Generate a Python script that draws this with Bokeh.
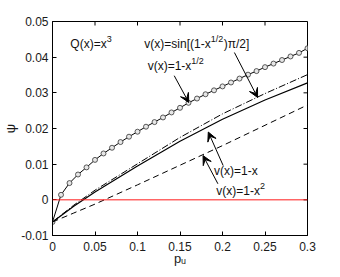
from bokeh.plotting import figure
from bokeh.models import Range1d, FixedTicker, Label, Arrow, VeeHead, Span
from bokeh.embed import file_html
from bokeh.resources import INLINE

# ---------------- data ----------------
x_sin = [0.00, 0.01, 0.02, 0.03, 0.04, 0.05, 0.06, 0.07, 0.08, 0.09, 0.10,
         0.11, 0.12, 0.13, 0.14, 0.15, 0.16, 0.17, 0.18, 0.19, 0.20,
         0.21, 0.22, 0.23, 0.24, 0.25, 0.26, 0.27, 0.28, 0.29, 0.30]
y_sin = [-0.0062, 0.0014, 0.0047, 0.0071, 0.0091, 0.0112, 0.0130, 0.0146, 0.0162, 0.0177, 0.0191,
         0.0205, 0.0218, 0.0231, 0.0245, 0.0258, 0.0272, 0.0284, 0.0296, 0.0307, 0.0318,
         0.0329, 0.0340, 0.0351, 0.0361, 0.0372, 0.0382, 0.0392, 0.0402, 0.0412, 0.0425]

x_lines = [0.0, 0.025, 0.05, 0.1, 0.15, 0.2, 0.25, 0.3]
y_sqrt = [-0.0062, -0.0015, 0.0027, 0.0101, 0.0175, 0.0241, 0.0298, 0.0351]   # v=1-x^1/2 (dash-dot)
y_lin = [-0.0062, -0.0018, 0.0022, 0.0095, 0.0164, 0.0226, 0.0280, 0.0328]    # v=1-x (solid)
y_sq = [-0.0062, -0.0037, -0.0012, 0.0042, 0.0097, 0.0152, 0.0209, 0.0266]    # v=1-x^2 (dashed)

x_ticks = [0, 0.05, 0.1, 0.15, 0.2, 0.25, 0.3]
x_tick_labels = ["0", "0.05", "0.1", "0.15", "0.2", "0.25", "0.3"]
y_ticks = [-0.01, 0, 0.01, 0.02, 0.03, 0.04, 0.05]
y_tick_labels = ["-0.01", "0", "0.01", "0.02", "0.03", "0.04", "0.05"]

FONT = "Liberation Sans"
X0, X1, Y0, Y1 = 0.0, 0.3, -0.01, 0.05
W_FIG, H_FIG = 324, 269
B_LEFT, B_RIGHT, B_TOP, B_BOTTOM = 50, 17, 21, 34
TICK = 4

p = figure(width=W_FIG, height=H_FIG, output_backend="svg", toolbar_location=None,
           x_range=Range1d(X0, X1), y_range=Range1d(Y0, Y1),
           min_border_left=B_LEFT, min_border_right=B_RIGHT,
           min_border_top=B_TOP, min_border_bottom=B_BOTTOM,
           x_axis_label="pᵤ", y_axis_label="ψ")
p.grid.visible = False
p.outline_line_color = "black"
p.background_fill_color = "white"
p.border_fill_color = "white"

for ax, ticks, labels in ((p.xaxis[0], x_ticks, x_tick_labels), (p.yaxis[0], y_ticks, y_tick_labels)):
    ax.ticker = FixedTicker(ticks=ticks)
    ax.major_label_overrides = {t: l for t, l in zip(ticks, labels)}
    ax.major_tick_in = TICK
    ax.major_tick_out = 0
    ax.minor_tick_in = 0
    ax.minor_tick_out = 0
    ax.axis_line_color = "black"
    ax.major_tick_line_color = "black"
    ax.major_label_text_font = FONT
    ax.major_label_text_color = "#1a1a1a"
    ax.major_label_text_font_size = "12px"
    ax.major_label_standoff = 4
    ax.axis_label_text_font = FONT
    ax.axis_label_text_font_style = "normal"
    ax.axis_label_text_font_size = "13px"
    ax.axis_label_text_color = "#1a1a1a"
p.xaxis[0].major_label_standoff = 6
p.xaxis[0].axis_label_standoff = -3
p.yaxis[0].axis_label_standoff = 0

# inward ticks on top and right edges (box like the reference)
frame_w = W_FIG - B_LEFT - B_RIGHT
frame_h = H_FIG - B_TOP - B_BOTTOM
dy = TICK * (Y1 - Y0) / frame_h
dx = TICK * (X1 - X0) / frame_w
p.segment(x0=x_ticks, y0=[Y1] * len(x_ticks), x1=x_ticks, y1=[Y1 - dy] * len(x_ticks),
          line_color="black", line_width=1)
p.segment(x0=[X1] * len(y_ticks), y0=y_ticks, x1=[X1 - dx] * len(y_ticks), y1=y_ticks,
          line_color="black", line_width=1)

# zero line
p.add_layout(Span(location=0, dimension="width", line_color="#ff1a1a", line_width=1))

# curves
p.line(x_sin, y_sin, line_color="black", line_width=1)
p.scatter(x_sin, y_sin, size=5, marker="circle", line_color="#333333", fill_color="#e6e6e6", line_width=0.8)
p.line(x_lines, y_sqrt, line_color="black", line_width=1, line_dash="7 2 1 2")
p.line(x_lines, y_lin, line_color="black", line_width=1.2)
p.line(x_lines, y_sq, line_color="black", line_width=1, line_dash="6 4")

# composite text helper (Arial/Liberation metrics)
W = {'v': 500, '(': 333, 'x': 500, ')': 333, '=': 584, 's': 500, 'i': 222, 'n': 556,
     '[': 278, ']': 278, '1': 556, '-': 333, 'π': 560, '/': 278, '2': 556, 'Q': 778, '3': 556}

def composite(x, y, pieces, size=12, sup=9):
    off = 0.0
    for txt, kind in pieces:
        fs = size if kind == "n" else sup
        yo = 0 if kind == "n" else 5
        p.add_layout(Label(x=x, y=y, x_offset=off, y_offset=yo, text=txt,
                           text_font=FONT, text_font_size=f"{fs}px",
                           text_color="#111111", text_baseline="middle", text_align="left"))
        off += sum(W.get(c, 556) for c in txt) * fs / 1000.0 + (0.5 if kind != "n" else 0)

composite(0.021, 0.0438, [("Q(x)=x", "n"), ("3", "s")])
composite(0.108, 0.0438, [("v(x)=sin[(1-x", "n"), ("1/2", "s"), (")π/2]", "n")])
composite(0.112, 0.0376, [("v(x)=1-x", "n"), ("1/2", "s")])
composite(0.190, 0.0082, [("v(x)=1-x", "n")])
composite(0.1926, 0.0026, [("v(x)=1-x", "n"), ("2", "s")])

# arrows
def arrow(x0, y0, x1, y1):
    p.add_layout(Arrow(x_start=x0, y_start=y0, x_end=x1, y_end=y1, line_width=1, line_color="black",
                       end=VeeHead(size=9, fill_color="black", line_color="black")))

arrow(0.1432, 0.0348, 0.1603, 0.0273)
arrow(0.2140, 0.0413, 0.2413, 0.0287)
arrow(0.2008, 0.0096, 0.1833, 0.0190)
arrow(0.1946, 0.0045, 0.1771, 0.0124)

open("out.html", "w").write(file_html(p, INLINE))
